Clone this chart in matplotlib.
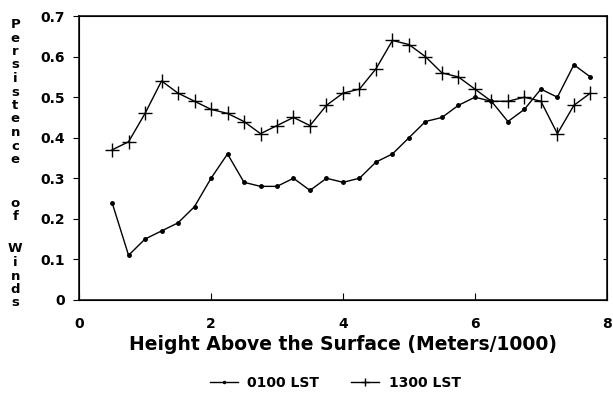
import numpy as np
import matplotlib.pyplot as plt

heights = np.arange(0.5, 7.76, 0.25)

lst0100 = [0.24, 0.11, 0.15, 0.17, 0.19, 0.23, 0.30, 0.36, 0.29, 0.28,
           0.28, 0.30, 0.27, 0.30, 0.29, 0.30, 0.34, 0.36, 0.40, 0.44,
           0.45, 0.48, 0.50, 0.49, 0.44, 0.47, 0.52, 0.50, 0.58, 0.55]
lst1300 = [0.37, 0.39, 0.46, 0.54, 0.51, 0.49, 0.47, 0.46, 0.44, 0.41,
           0.43, 0.45, 0.43, 0.48, 0.51, 0.52, 0.57, 0.64, 0.63, 0.60,
           0.56, 0.55, 0.52, 0.49, 0.49, 0.50, 0.49, 0.41, 0.48, 0.51]

xticks = [0, 2, 4, 6, 8]
yticks = [0, 0.1, 0.2, 0.3, 0.4, 0.5, 0.6, 0.7]
ylabels = ['0', '0.1', '0.2', '0.3', '0.4', '0.5', '0.6', '0.7']

plt.rcParams['font.family'] = ['DejaVu Sans']
plt.rcParams['font.weight'] = 'bold'

fig = plt.figure(figsize=(6.13, 3.94), dpi=100)
ax = fig.add_axes([0.129, 0.239, 0.861, 0.72])

l1, = ax.plot(heights, lst0100, color='black', lw=1, marker='o', ms=2.5,
              label='0100 LST')
l2, = ax.plot(heights, lst1300, color='black', lw=1, marker='+', ms=10,
              mew=1, label='1300 LST')

ax.set_xlim(0, 8)
ax.set_ylim(0, 0.7)
ax.set_xticks(xticks)
ax.set_xticklabels([str(t) for t in xticks], fontsize=10, fontweight='bold')
ax.set_yticks(yticks)
ax.set_yticklabels(ylabels, fontsize=10, fontweight='bold')
ax.tick_params(axis='x', direction='in', length=5, pad=12)
ax.tick_params(axis='y', direction='out', length=4, pad=6)
for s in ax.spines.values():
    s.set_linewidth(1.1)

# small inward ticks on the right side
ax2 = ax.twinx()
ax2.set_ylim(0, 0.7)
ax2.set_yticks(yticks)
ax2.set_yticklabels([])
ax2.tick_params(axis='y', direction='in', length=3)

ax.set_xlabel('Height Above the Surface (Meters/1000)', fontsize=13.5,
              fontweight='bold', labelpad=3)

# vertical stacked y label
fig.text(0.025, 1 - 92 / 394, '\n'.join('Persistence'), ha='center',
         va='center', fontsize=9.5, fontweight='bold', linespacing=1.05)
fig.text(0.025, 1 - 210 / 394, '\n'.join('of'), ha='center',
         va='center', fontsize=9.5, fontweight='bold', linespacing=1.05)
fig.text(0.025, 1 - 276 / 394, '\n'.join('Winds'), ha='center',
         va='center', fontsize=9.5, fontweight='bold', linespacing=1.05)

fig.legend(handles=[l1, l2], loc='center', bbox_to_anchor=(0.547, 0.028),
           ncol=2, frameon=False, fontsize=10, handlelength=2.0,
           columnspacing=2.3, handletextpad=0.7, borderaxespad=0,
           markerscale=0.6)

fig.savefig('out.png', dpi=100)
